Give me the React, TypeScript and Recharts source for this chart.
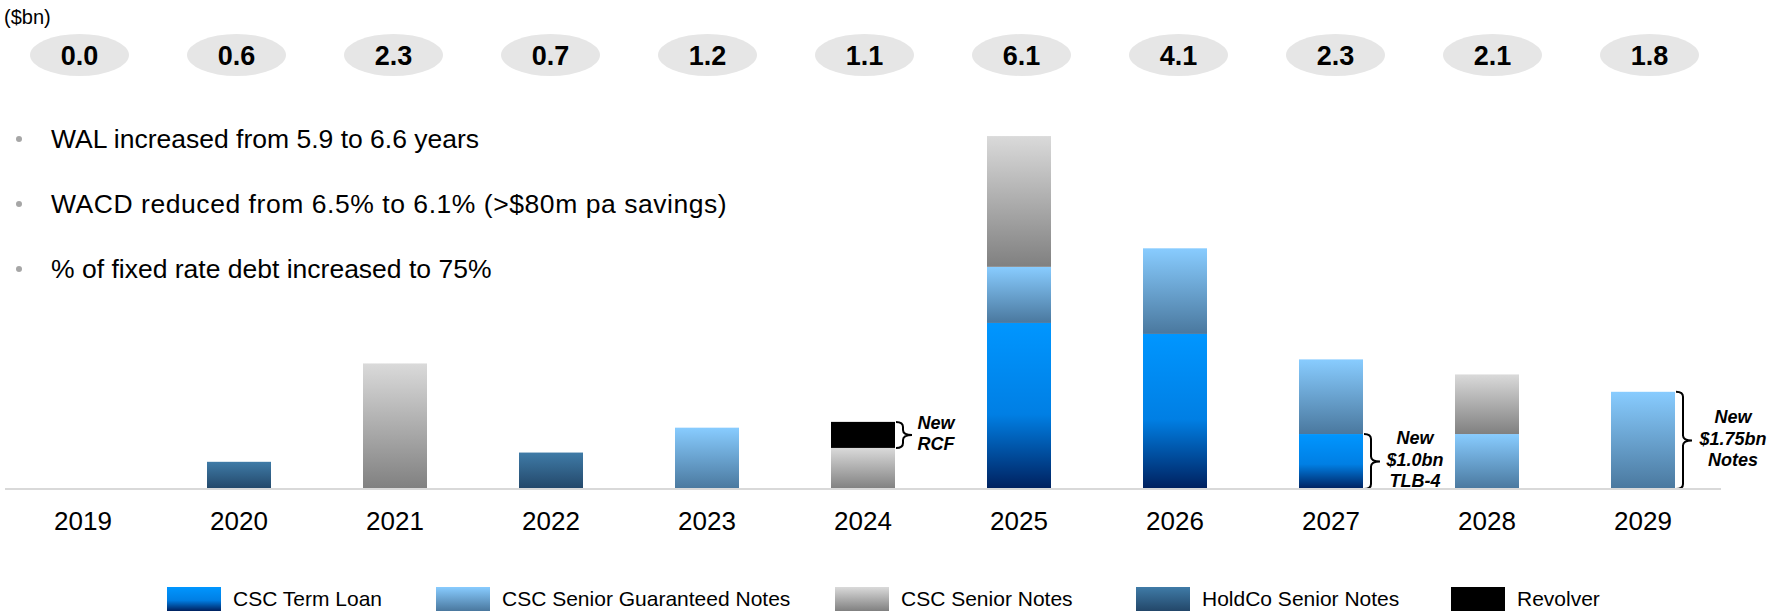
import { BarChart, Bar, XAxis, YAxis } from 'recharts'

// maturity profile, $bn
const years = ['2019', '2020', '2021', '2022', '2023', '2024', '2025', '2026', '2027', '2028', '2029']
const totals = ['0.0', '0.6', '2.3', '0.7', '1.2', '1.1', '6.1', '4.1', '2.3', '2.1', '1.8']

const termLoan = [0, 0, 0, 0, 0, 0, 2.87, 2.68, 0.95, 0, 0]
const seniorGuaranteed = [0, 0, 0, 0, 1.06, 0, 0.97, 1.48, 1.29, 0.95, 1.68]
const seniorNotes = [0, 0, 2.17, 0, 0, 0.71, 2.26, 0, 0, 1.03, 0]
const holdcoNotes = [0, 0.47, 0, 0.63, 0, 0, 0, 0, 0, 0, 0]
const revolver = [0, 0, 0, 0, 0, 0.45, 0, 0, 0, 0, 0]

const bullets = [
  'WAL increased from 5.9 to 6.6 years',
  'WACD reduced from 6.5% to 6.1% (>$80m pa savings)',
  '% of fixed rate debt increased to 75%',
]
const bulletLetterSpacing = [0, 0.55, 0]

const series = [
  { key: 'tl', name: 'CSC Term Loan', stops: [['0%', '#0096ff'], ['55%', '#007fe4'], ['100%', '#00205e']] },
  { key: 'sgn', name: 'CSC Senior Guaranteed Notes', stops: [['0%', '#88ccff'], ['100%', '#4a789e']] },
  { key: 'sn', name: 'CSC Senior Notes', stops: [['0%', '#dadada'], ['100%', '#808080']] },
  { key: 'hc', name: 'HoldCo Senior Notes', stops: [['0%', '#3f7ba7'], ['100%', '#234769']] },
  { key: 'rev', name: 'Revolver', stops: [['0%', '#000000'], ['100%', '#000000']] },
]

const annotations = [
  { year: '2024', key: 'rev', lines: ['New', 'RCF'], dx: 41 },
  { year: '2027', key: 'tl', lines: ['New', '$1.0bn', 'TLB-4'], dx: 52 },
  { year: '2029', key: 'sgn', lines: ['New', '$1.75bn', 'Notes'], dx: 58 },
]

const legendLeft = [167, 436, 835, 1136, 1451]

const data = years.map((year, i) => ({
  year,
  tl: termLoan[i],
  sgn: seniorGuaranteed[i],
  sn: seniorNotes[i],
  hc: holdcoNotes[i],
  rev: revolver[i],
}))

const FONT = '"Liberation Sans", Arial, Helvetica, sans-serif'

function OvalTick(props: any) {
  const { x, y, payload } = props
  const cy = y - 29
  return (
    <g>
      <ellipse cx={x} cy={cy} rx={49.5} ry={21} fill="#e6e6e6" />
      <text x={x} y={cy} dy="0.36em" textAnchor="middle" fontFamily={FONT} fontSize={27} fontWeight="bold" fill="#000">
        {totals[payload.index]}
      </text>
    </g>
  )
}

function bracePath(x: number, y0: number, y1: number) {
  const w = 16
  const v = x + 7
  const ym = (y0 + y1) / 2
  const r = Math.min(5, (y1 - y0) / 4)
  return `M${x},${y0} Q${v},${y0} ${v},${y0 + r} L${v},${ym - r} Q${v},${ym} ${x + w},${ym} Q${v},${ym} ${v},${ym + r} L${v},${y1 - r} Q${v},${y1} ${x},${y1}`
}

// bar segment, plus a brace + note when this segment is one of the new facilities
function SegmentShape(props: any) {
  const { x, y, width, height, fill, payload, seriesKey } = props
  if (!height || height <= 0) return null
  const note = annotations.find((a) => a.key === seriesKey && payload && a.year === payload.year)
  const rect = <rect x={x} y={y} width={width} height={height} fill={fill} />
  if (!note) return rect
  const right = x + width + 1
  const mid = y + height / 2 - 2
  const lh = 21.5
  const first = mid - ((note.lines.length - 1) * lh) / 2
  return (
    <g>
      {rect}
      <path d={bracePath(right, y, y + height)} fill="none" stroke="#000" strokeWidth={2} />
      {note.lines.map((line, i) => (
        <text
          key={line}
          x={right - 1 + note.dx}
          y={first + i * lh}
          dy="0.36em"
          textAnchor="middle"
          fontFamily={FONT}
          fontSize={18}
          fontWeight="bold"
          fontStyle="italic"
          fill="#000"
        >
          {line}
        </text>
      ))}
    </g>
  )
}

export default function App() {
  return (
    <div style={{ position: 'absolute', left: 0, top: 0, width: 1769, height: 611, background: '#fff', fontFamily: FONT }}>
      <BarChart
        width={1769}
        height={611}
        data={data}
        margin={{ top: 0, right: 48, bottom: 72, left: 5 }}
        barSize={64}
      >
        <defs>
          {series.map((s) => (
            <linearGradient key={s.key} id={`grad-${s.key}`} x1="0" y1="0" x2="0" y2="1">
              {s.stops.map(([off, col]) => (
                <stop key={off} offset={off} stopColor={col} />
              ))}
            </linearGradient>
          ))}
        </defs>
        <XAxis
          xAxisId="totals"
          dataKey="year"
          orientation="top"
          height={84}
          padding={{ left: -4, right: -7 }}
          axisLine={false}
          tickLine={false}
          tickSize={0}
          tickMargin={0}
          interval={0}
          tick={(p: any) => <OvalTick {...p} />}
        />
        <XAxis
          xAxisId="main"
          dataKey="year"
          height={50}
          axisLine={{ stroke: '#d9d9d9', strokeWidth: 2 }}
          tickLine={false}
          tickSize={0}
          tickMargin={23}
          interval={0}
          tick={{ fontSize: 26, fill: '#000', fontFamily: FONT }}
        />
        <YAxis hide domain={[0, 7]} />
        {series.map((s) => (
          <Bar
            key={s.key}
            xAxisId="main"
            dataKey={s.key}
            name={s.name}
            stackId="debt"
            fill={`url(#grad-${s.key})`}
            isAnimationActive={false}
            shape={(p: any) => <SegmentShape {...p} seriesKey={s.key} />}
          />
        ))}
      </BarChart>

      <div style={{ position: 'absolute', left: 4, top: 6, fontSize: 20, color: '#000' }}>($bn)</div>

      {bullets.map((b, i) => (
        <div key={b} style={{ position: 'absolute', left: 0, top: 139 + i * 65 - 16, height: 32, display: 'flex', alignItems: 'center' }}>
          <span style={{ display: 'inline-block', width: 6, height: 6, borderRadius: 3, background: '#a6a6a6', marginLeft: 16, marginRight: 29 }} />
          <span style={{ fontSize: 26.5, color: '#000', whiteSpace: 'nowrap', letterSpacing: bulletLetterSpacing[i] }}>{b}</span>
        </div>
      ))}

      {series.map((s, i) => (
        <div key={s.key} style={{ position: 'absolute', left: legendLeft[i], top: 587, height: 24, display: 'flex', alignItems: 'center' }}>
          <span
            style={{
              display: 'inline-block',
              width: 54,
              height: 24,
              background: `linear-gradient(to bottom, ${s.stops.map(([o, c]) => `${c} ${o}`).join(', ')})`,
            }}
          />
          <span style={{ marginLeft: 12, fontSize: 21, color: '#000', whiteSpace: 'nowrap' }}>{s.name}</span>
        </div>
      ))}
    </div>
  )
}
